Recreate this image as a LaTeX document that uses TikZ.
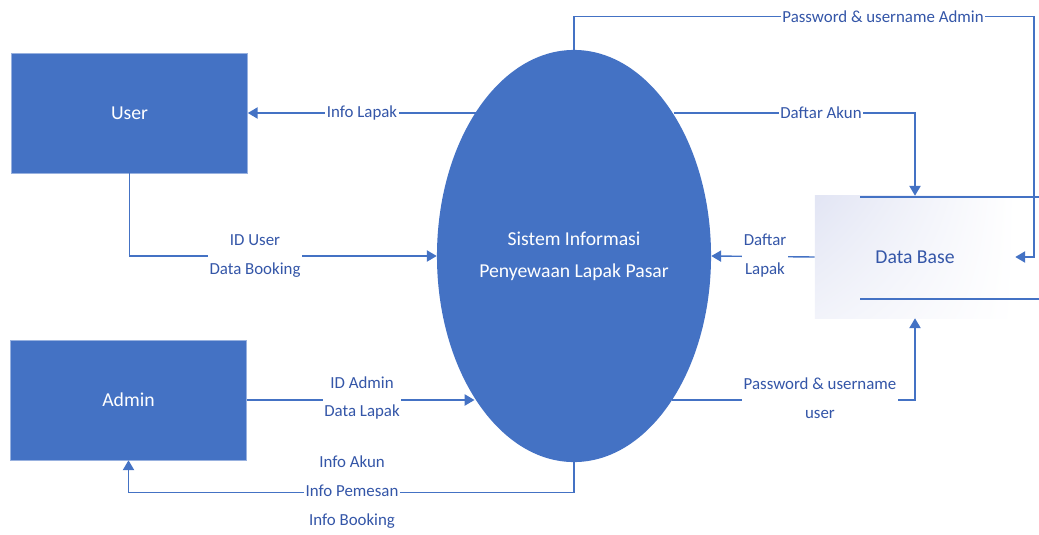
\documentclass[tikz,border=0pt]{standalone}
\usepackage{fontspec}
\setmainfont{Carlito}
\usetikzlibrary{arrows.meta, positioning, shapes.geometric, shadings}
\definecolor{dfdblue}{RGB}{68,114,196}
\definecolor{dfdtext}{RGB}{52,86,168}
\definecolor{dfdshade}{RGB}{226,229,244}

\begin{document}
\begin{tikzpicture}[x=0.025cm, y=-0.025cm, >={Triangle[length=7pt,width=8pt]},
	entity/.style={rectangle, fill=dfdblue, draw=dfdblue!55!white, line width=0.4pt, text=white, font=\fontsize{14}{17}\selectfont, minimum width=5.9cm, minimum height=3cm},
	process/.style={ellipse, fill=dfdblue, text=white, align=center, inner sep=0pt, font=\fontsize{14}{22.8}\selectfont, minimum width=6.85cm, minimum height=10.3cm},
	store/.style={rectangle, shade, upper left=dfdshade, lower left=dfdshade!45!white, upper right=white, lower right=white, text=dfdtext, font=\fontsize{14}{17}\selectfont, minimum width=5cm, minimum height=3.05cm},
	storeline/.style={draw=dfdblue, line width=1pt},
	flow/.style={color=dfdblue, line width=1pt, ->},
	lbl/.style={fill=white, text=dfdtext, align=center, inner sep=1pt, font=\fontsize{12}{20.6}\selectfont}]
	
	\useasboundingbox (0,0) rectangle (1039,534);
	
	\node (user) [entity] at (129.5,113) {User};
	\node (admin) [entity] at (128.5,400) {Admin};
	\node (sis) [process] at (574,256) {Sistem Informasi\\Penyewaan Lapak Pasar};
	\node (db) [store] at (915,257) {Data Base};
	
	% data store
	\draw [storeline] (860,197) -- (1039,197);
	\draw [storeline] (860,299) -- (1039,299);
	
	\path [flow]
	(sis.124.6 |- user.east) edge (user.east)
	(db.west) edge (sis.east)
	(admin.east) edge (sis.235.4 |- admin.east);
	
	\draw [flow] (sis.north) -- ++(0,-33) -- ++(460,0) |- (db.east);
	\draw [flow] (sis.55.4 |- user.east) -| (db.north);
	\draw [flow] (user.south) |- (sis.west);
	\draw [flow] (sis.304.6 |- admin.east) -| (db.south);
	\draw [flow] (sis.south) -- ++(0,30) -| (admin.south);
	
	% labels
	\node (lPassAdmin) [lbl] at (883,17) {Password \& username Admin};
	\node (lInfoLapak) [lbl] at (362,113) {Info Lapak};
	\node (lDaftarAkun) [lbl] at (821,113) {Daftar Akun};
	\node (lUser) [lbl] at (255,256) {ID User\\Data Booking};
	\node (lDaftarLapak) [lbl] at (765,256) {Daftar\\Lapak};
	\node (lAdmin) [lbl] at (362,398) {ID Admin\\Data Lapak};
	\node (lPassUser) [lbl] at (820,398) {Password \& username\\user};
	\node (lInfo) [lbl] at (352,492) {Info Akun\\Info Pemesan\\Info Booking};
	
\end{tikzpicture}
\end{document}
